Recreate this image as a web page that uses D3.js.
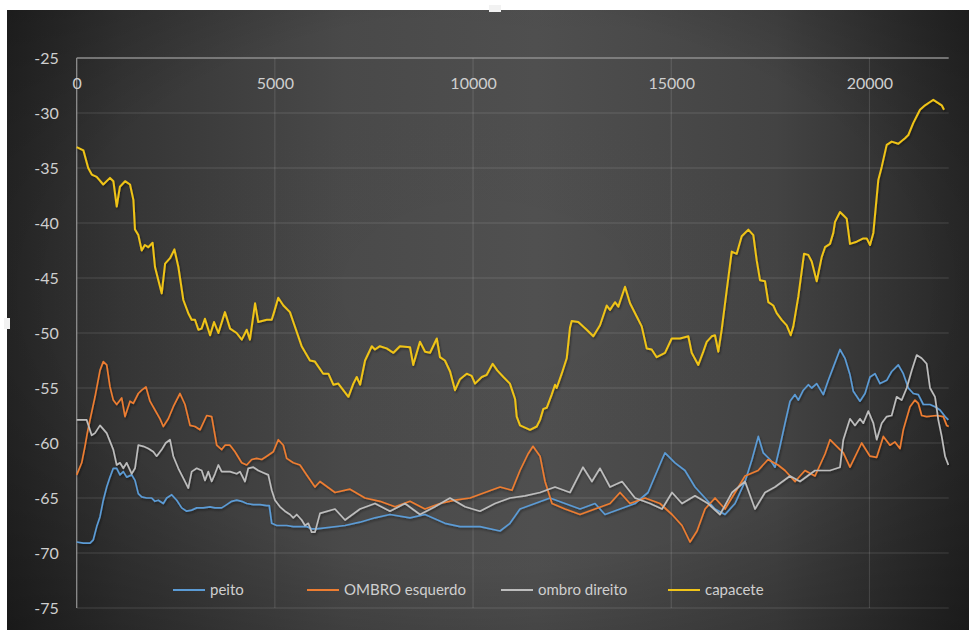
<!DOCTYPE html>
<html>
<head>
<meta charset="utf-8">
<title>capacete</title>
<script src="https://cdn.jsdelivr.net/npm/d3@7"></script>
<style>
  body { margin: 0; background: #fff; overflow: hidden; }
  svg { display: block; }
  text { font-family: Lato, "Open Sans", sans-serif; }
</style>
</head>
<body>
<svg width="969" height="630" id="mainsvg"></svg>
<script>
// ---- data ----
const xTicks = [0, 5000, 10000, 15000, 20000]
const yTicks = [-25, -30, -35, -40, -45, -50, -55, -60, -65, -70, -75]
const seriesNames = ['peito', 'OMBRO esquerdo', 'ombro direito', 'capacete']
const seriesColors = ['#5b9bd5', '#ed7d31', '#bdbdbd', '#f0c419']

const peito = [[0,-69.0],[167,-69.1],[336,-69.1],[419,-68.8],[505,-67.6],[588,-66.7],[671,-65.2],[757,-64.0],[840,-63.1],[923,-62.3],[1009,-62.3],[1092,-62.9],[1176,-62.6],[1262,-63.1],[1388,-62.9],[1471,-63.4],[1554,-64.6],[1640,-64.9],[1766,-65.0],[1892,-65.0],[1975,-65.3],[2059,-65.2],[2185,-65.5],[2271,-65.0],[2397,-64.7],[2523,-65.2],[2649,-65.9],[2775,-66.2],[2901,-66.1],[3028,-65.9],[3194,-65.9],[3363,-65.8],[3489,-65.9],[3658,-65.9],[3785,-65.6],[3911,-65.3],[4037,-65.2],[4163,-65.3],[4289,-65.5],[4456,-65.6],[4625,-65.6],[4794,-65.7],[4859,-65.7],[4920,-67.3],[5046,-67.5],[5298,-67.5],[5465,-67.6],[5677,-67.6],[5803,-67.6],[5929,-67.8],[6055,-67.8],[6770,-67.5],[7148,-67.2],[7526,-66.8],[7904,-66.5],[8409,-66.8],[8787,-66.5],[9292,-67.3],[9671,-67.6],[10175,-67.6],[10680,-68.0],[10932,-67.3],[11184,-66.0],[11563,-65.5],[11942,-65.0],[12320,-65.5],[12699,-66.0],[13077,-65.5],[13329,-66.5],[13708,-66.0],[14087,-65.5],[14415,-64.5],[14591,-63.0],[14768,-61.5],[14843,-60.9],[15095,-61.8],[15347,-62.5],[15600,-64.0],[15853,-65.0],[16105,-66.0],[16357,-66.5],[16610,-65.5],[16862,-63.5],[17038,-61.5],[17197,-59.4],[17323,-60.9],[17492,-61.5],[17618,-62.2],[17744,-60.3],[17871,-58.2],[17997,-56.2],[18123,-55.6],[18206,-56.1],[18332,-55.2],[18458,-54.7],[18544,-55.0],[18670,-54.6],[18837,-55.6],[18963,-54.3],[19089,-53.1],[19258,-51.5],[19384,-52.3],[19510,-53.8],[19594,-55.3],[19762,-56.2],[19889,-55.5],[20015,-54.0],[20141,-53.7],[20267,-54.6],[20436,-54.3],[20562,-53.5],[20729,-52.9],[20855,-53.7],[20981,-55.0],[21108,-55.5],[21234,-55.6],[21360,-56.5],[21529,-56.5],[21655,-56.7],[21781,-57.0],[21908,-57.6],[21992,-57.9]]

const ombroEsquerdo = [[0,-62.9],[126,-61.8],[209,-60.3],[267,-59.1],[336,-57.9],[462,-55.8],[588,-53.4],[671,-52.6],[757,-52.9],[840,-54.9],[923,-56.1],[1009,-56.5],[1135,-55.9],[1219,-57.6],[1345,-56.2],[1428,-56.4],[1554,-55.5],[1640,-55.2],[1748,-54.9],[1849,-56.2],[1975,-57.0],[2102,-57.8],[2185,-58.5],[2311,-57.8],[2437,-56.7],[2606,-55.5],[2732,-56.5],[2859,-58.4],[2985,-58.5],[3111,-58.8],[3280,-57.5],[3406,-57.6],[3532,-60.2],[3658,-60.6],[3742,-60.2],[3868,-60.2],[3994,-60.8],[4163,-61.8],[4289,-62.0],[4415,-61.5],[4541,-61.4],[4668,-61.5],[4794,-61.2],[4960,-60.8],[5086,-59.7],[5213,-60.2],[5298,-61.4],[5465,-61.8],[5634,-62.0],[5803,-62.9],[6012,-64.0],[6138,-63.5],[6517,-64.5],[6896,-64.2],[7274,-65.0],[7652,-65.3],[8031,-65.8],[8409,-65.3],[8787,-66.0],[9166,-65.5],[9545,-65.2],[9923,-65.0],[10301,-64.5],[10680,-64.0],[10982,-64.3],[11184,-62.5],[11386,-61.0],[11512,-60.3],[11690,-61.2],[11816,-63.5],[11992,-65.5],[12320,-66.0],[12699,-66.5],[13077,-66.0],[13456,-65.5],[13708,-64.5],[13960,-65.5],[14339,-65.0],[14717,-65.5],[15020,-66.5],[15272,-67.5],[15474,-69.0],[15651,-68.0],[15853,-66.0],[16105,-65.0],[16357,-66.0],[16610,-64.5],[16862,-63.0],[17190,-62.5],[17442,-61.5],[17694,-62.0],[17871,-62.5],[18123,-63.5],[18375,-62.5],[18627,-63.0],[18880,-61.0],[19006,-59.7],[19175,-60.3],[19342,-60.9],[19510,-62.2],[19805,-60.0],[20015,-61.2],[20184,-61.3],[20351,-59.4],[20519,-60.2],[20645,-59.9],[20771,-60.5],[20855,-58.8],[21024,-56.7],[21150,-56.1],[21234,-56.4],[21319,-57.5],[21445,-57.6],[21698,-57.5],[21865,-57.6],[21950,-58.4],[22000,-58.5]]

const ombroDireito = [[0,-57.9],[252,-57.9],[378,-59.3],[462,-59.1],[588,-58.4],[757,-59.1],[923,-60.6],[1009,-62.0],[1092,-61.8],[1176,-62.3],[1262,-61.8],[1388,-62.8],[1471,-62.3],[1554,-60.2],[1680,-60.3],[1806,-60.5],[1933,-60.8],[2018,-61.2],[2145,-60.6],[2245,-60.0],[2354,-59.7],[2437,-61.2],[2563,-62.3],[2689,-63.2],[2816,-64.1],[2901,-62.6],[3028,-62.3],[3154,-62.5],[3237,-63.4],[3320,-62.6],[3406,-63.5],[3489,-62.8],[3573,-62.0],[3658,-62.6],[3868,-62.6],[4037,-62.8],[4120,-62.6],[4246,-63.5],[4329,-62.3],[4456,-62.2],[4582,-62.5],[4708,-62.7],[4834,-62.9],[4920,-64.3],[5003,-65.2],[5129,-65.8],[5255,-66.2],[5382,-66.5],[5465,-66.8],[5551,-66.5],[5677,-67.0],[5760,-67.5],[5843,-67.3],[5929,-68.1],[6012,-68.1],[6138,-66.4],[6517,-66.0],[6770,-67.0],[7148,-66.0],[7526,-65.5],[7904,-66.2],[8283,-65.5],[8661,-66.5],[9039,-65.8],[9418,-65.0],[9797,-65.8],[10175,-66.2],[10553,-65.5],[10932,-65.0],[11310,-64.8],[11690,-64.5],[12068,-64.0],[12446,-64.5],[12774,-62.2],[12999,-63.5],[13203,-62.3],[13456,-64.0],[13759,-63.5],[14087,-65.0],[14465,-65.5],[14768,-66.0],[15020,-64.5],[15272,-65.5],[15600,-64.8],[15928,-65.5],[16231,-66.5],[16534,-64.5],[16862,-63.5],[17114,-66.0],[17366,-64.5],[17618,-64.0],[17997,-63.0],[18249,-63.5],[18627,-62.5],[19006,-62.5],[19258,-62.2],[19342,-59.7],[19510,-57.8],[19636,-58.4],[19762,-57.8],[19846,-58.2],[19972,-57.1],[20099,-58.2],[20184,-59.7],[20310,-58.2],[20436,-57.6],[20562,-57.5],[20688,-55.8],[20814,-56.1],[20941,-55.0],[21067,-53.4],[21193,-52.0],[21319,-52.3],[21445,-52.8],[21529,-55.0],[21655,-55.8],[21738,-57.9],[21824,-59.4],[21908,-61.2],[21992,-62.0]]

const capacete = [[0,-33.1],[170,-33.4],[290,-35.0],[380,-35.6],[505,-35.8],[670,-36.5],[840,-35.9],[925,-36.2],[1010,-38.5],[1090,-36.7],[1220,-36.2],[1345,-36.5],[1430,-37.9],[1470,-40.6],[1555,-41.1],[1640,-42.5],[1720,-42.0],[1805,-42.2],[1915,-41.8],[1975,-44.0],[2145,-46.4],[2230,-43.7],[2355,-43.2],[2465,-42.4],[2565,-44.0],[2690,-47.0],[2815,-48.2],[2900,-48.8],[2985,-48.8],[3070,-49.7],[3150,-49.6],[3235,-48.7],[3365,-50.2],[3465,-49.0],[3575,-50.0],[3740,-48.1],[3870,-49.6],[4035,-50.0],[4165,-50.6],[4290,-49.7],[4370,-50.6],[4500,-47.3],[4580,-49.0],[4795,-48.8],[4920,-48.8],[4980,-48.1],[5085,-46.8],[5215,-47.5],[5380,-48.1],[5465,-49.0],[5675,-51.2],[5885,-52.5],[6010,-52.6],[6220,-53.7],[6350,-53.7],[6475,-54.7],[6600,-54.6],[6855,-55.8],[6980,-54.6],[7065,-54.0],[7150,-54.7],[7275,-52.5],[7445,-51.2],[7525,-51.5],[7650,-51.2],[7820,-51.4],[7990,-51.8],[8155,-51.2],[8410,-51.3],[8490,-52.9],[8660,-50.8],[8790,-51.7],[8915,-51.8],[9085,-50.5],[9165,-52.2],[9290,-52.5],[9420,-53.5],[9545,-55.2],[9670,-54.2],[9840,-53.7],[9965,-53.9],[10050,-54.6],[10220,-54.0],[10345,-53.8],[10495,-52.8],[10610,-53.4],[10765,-54.0],[10930,-54.6],[11060,-56.0],[11101,-57.6],[11185,-58.4],[11437,-58.8],[11606,-58.5],[11690,-57.9],[11773,-56.9],[11858,-56.8],[11984,-55.6],[12068,-54.7],[12110,-55.0],[12237,-53.7],[12363,-52.3],[12446,-49.5],[12489,-48.9],[12655,-49.0],[12867,-49.7],[13034,-50.3],[13203,-49.3],[13372,-47.5],[13455,-47.9],[13581,-47.2],[13665,-47.6],[13834,-45.8],[13960,-47.3],[14129,-48.5],[14255,-49.4],[14381,-51.4],[14507,-51.5],[14633,-52.2],[14843,-51.8],[15012,-50.5],[15221,-50.5],[15431,-50.3],[15516,-51.8],[15683,-52.9],[15809,-51.7],[15895,-50.8],[16021,-50.3],[16104,-50.2],[16188,-51.7],[16273,-49.7],[16400,-46.1],[16526,-42.6],[16652,-42.8],[16778,-41.2],[16945,-40.6],[17071,-41.1],[17156,-43.4],[17240,-45.2],[17366,-45.3],[17449,-47.2],[17575,-47.5],[17661,-48.2],[17787,-48.8],[17913,-49.3],[18014,-50.2],[18080,-49.4],[18206,-46.7],[18350,-42.8],[18458,-42.9],[18544,-43.5],[18670,-45.3],[18796,-43.1],[18880,-42.2],[19006,-41.9],[19089,-40.9],[19132,-39.9],[19258,-39.0],[19342,-39.3],[19427,-39.6],[19510,-41.9],[19679,-41.7],[19846,-41.4],[19932,-41.4],[20015,-42.0],[20099,-40.9],[20224,-36.1],[20310,-34.9],[20436,-32.9],[20562,-32.6],[20729,-32.8],[20898,-32.3],[20982,-32.0],[21108,-30.9],[21193,-30.3],[21276,-29.7],[21403,-29.3],[21529,-29.0],[21612,-28.8],[21738,-29.1],[21824,-29.3],[21882,-29.7]]

const allSeries = [peito, ombroEsquerdo, ombroDireito, capacete]

// ---- layout ----
const svg = d3.select('#mainsvg')
const width = +svg.attr('width')
const height = +svg.attr('height')
const chartBox = {x: 7, y: 10}
const margin = {top: 58, left: 76.7, bottom: 22, right: 20.3}
const innerWidth = width - margin.left - margin.right
const innerHeight = height - margin.top - margin.bottom

const defs = svg.append('defs')
const bg = defs.append('linearGradient').attr('id', 'bgGrad')
  .attr('x1', 0).attr('x2', 1).attr('y1', 0).attr('y2', 0)
bg.selectAll('stop')
  .data([[0, '#262626'], [0.12, '#363636'], [0.35, '#4a4a4a'], [0.55, '#505050'], [0.8, '#444444'], [1, '#282828']])
  .join('stop')
  .attr('offset', d => d[0])
  .attr('stop-color', d => d[1])
const vign = defs.append('radialGradient').attr('id', 'vign')
  .attr('cx', 0.5).attr('cy', 0.45).attr('r', 0.75)
vign.selectAll('stop')
  .data([[0, 0], [0.6, 0.02], [1, 0.35]])
  .join('stop')
  .attr('offset', d => d[0])
  .attr('stop-color', '#000')
  .attr('stop-opacity', d => d[1])
defs.append('filter').attr('id', 'shadow')
  .attr('x', '-5%').attr('y', '-5%').attr('width', '110%').attr('height', '110%')
  .append('feDropShadow')
  .attr('dx', 1).attr('dy', 1.5).attr('stdDeviation', 1)
  .attr('flood-color', '#000').attr('flood-opacity', 0.45)

svg.append('rect')
  .attr('x', chartBox.x).attr('y', chartBox.y)
  .attr('width', width - chartBox.x).attr('height', height - chartBox.y)
  .attr('fill', 'url(#bgGrad)')
svg.append('rect')
  .attr('x', chartBox.x).attr('y', chartBox.y)
  .attr('width', width - chartBox.x).attr('height', height - chartBox.y)
  .attr('fill', 'url(#vign)')

// selection handles (Excel)
svg.append('rect').attr('x', 489).attr('y', 5).attr('width', 12).attr('height', 7).attr('fill', '#f2f2f2')
svg.append('rect').attr('x', 4).attr('y', 318).attr('width', 6).attr('height', 11).attr('fill', '#f2f2f2')

const x = d3.scaleLinear().domain([0, 22000]).range([0, 22000 / 25.23])
const y = d3.scaleLinear().domain([-75, -25]).range([innerHeight, 0])

const g = svg.append('g')
  .attr('transform', `translate(${margin.left}, ${margin.top})`)

// gridlines
g.append('g').selectAll('line')
  .data(yTicks)
  .join('line')
  .attr('x1', 0).attr('x2', x(22000))
  .attr('y1', d => y(d)).attr('y2', d => y(d))
  .attr('stroke', d => d === -25 ? '#8e8e8e' : 'rgba(255,255,255,0.14)')
  .attr('stroke-width', d => d === -25 ? 1.3 : 1)
g.append('g').selectAll('line')
  .data(xTicks)
  .join('line')
  .attr('x1', d => x(d)).attr('x2', d => x(d))
  .attr('y1', 0).attr('y2', innerHeight)
  .attr('stroke', d => d === 0 ? '#8e8e8e' : 'rgba(255,255,255,0.14)')
  .attr('stroke-width', d => d === 0 ? 1.3 : 1)

// axes labels
const yAxis = d3.axisLeft(y).tickValues(yTicks).tickSize(0).tickPadding(18)
  .tickFormat(d => String(d))
const yg = g.append('g').call(yAxis)
yg.select('.domain').remove()
yg.selectAll('text').attr('fill', '#cfcfcf').attr('font-size', '16px')
  .attr('font-family', 'Lato, sans-serif')

const xAxis = d3.axisBottom(x).tickValues(xTicks).tickSize(0).tickPadding(20)
  .tickFormat(d => String(d))
const xg = g.append('g').call(xAxis)
xg.select('.domain').remove()
xg.selectAll('text').attr('fill', '#cfcfcf').attr('font-size', '16px')
  .attr('font-family', 'Lato, sans-serif')

// series
const line = d3.line().x(d => x(d[0])).y(d => y(d[1]))
g.append('g').attr('filter', 'url(#shadow)')
  .selectAll('path')
  .data(allSeries)
  .join('path')
  .attr('fill', 'none')
  .attr('stroke', (d, i) => seriesColors[i])
  .attr('stroke-width', (d, i) => i === 3 ? 2 : 1.7)
  .attr('stroke-linejoin', 'round')
  .attr('d', line)

// legend
const legendX = [173, 307, 501, 668]
const legendY = 590
const legend = svg.append('g')
const items = legend.selectAll('g')
  .data(seriesNames)
  .join('g')
  .attr('transform', (d, i) => `translate(${legendX[i]}, ${legendY})`)
items.append('line')
  .attr('x1', 0).attr('x2', 32)
  .attr('stroke', (d, i) => seriesColors[i])
  .attr('stroke-width', 2)
items.append('text')
  .attr('x', 37).attr('dy', '0.35em')
  .attr('fill', '#cfcfcf')
  .attr('font-size', '15px')
  .text(d => d)
</script>
</body>
</html>
